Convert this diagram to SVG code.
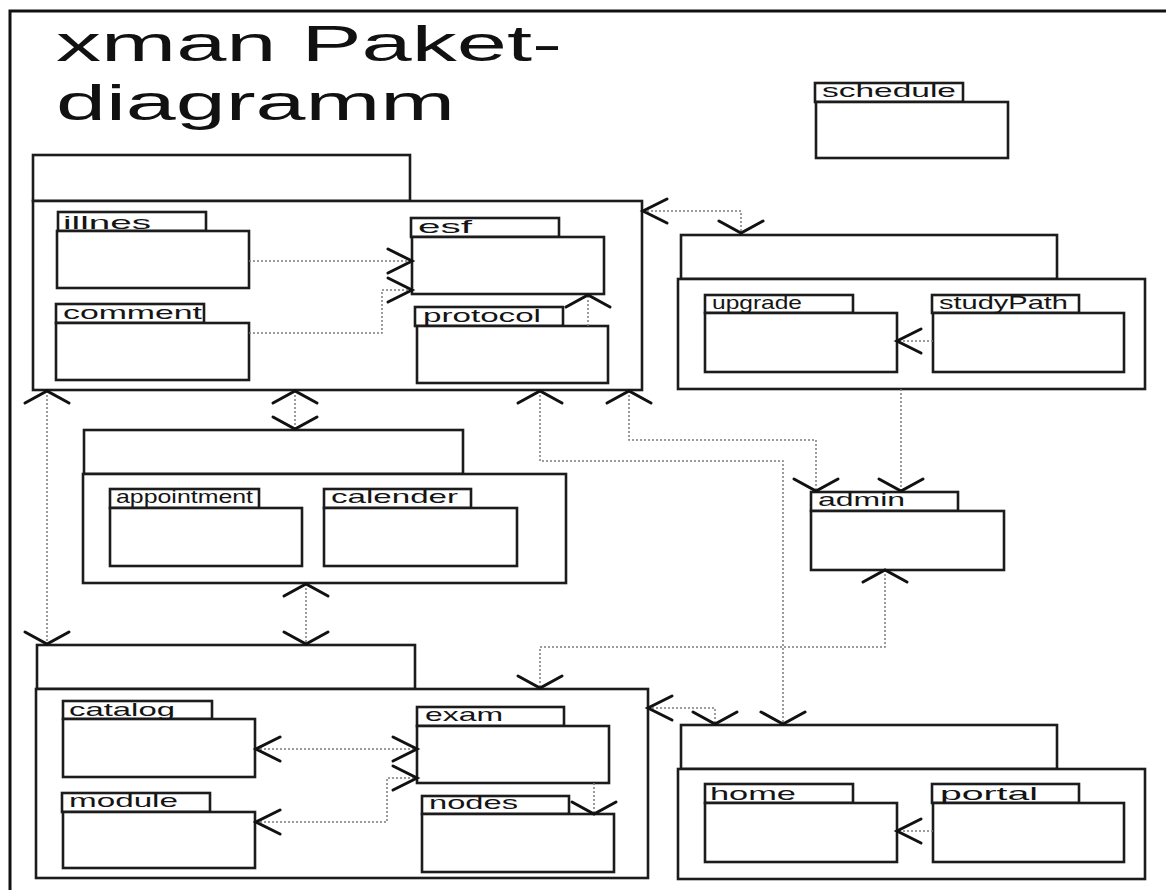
<svg xmlns="http://www.w3.org/2000/svg" width="1166" height="890" viewBox="0 0 1166 890">
<style>
.pk{fill:#fff;stroke:#1c1c1c;stroke-width:2.6}
.lbl{font-family:"Liberation Sans",Arial,sans-serif;font-size:19px;fill:#141414}
.title{font-family:"Liberation Sans",Arial,sans-serif;font-size:50px;fill:#111}
.cn{fill:none;stroke:#7c7c7c;stroke-width:1.5;stroke-dasharray:2 2}
.ahp{fill:none;stroke:#111;stroke-width:3;stroke-linecap:round;stroke-linejoin:miter}
</style>
<defs>
<marker id="ah" markerUnits="userSpaceOnUse" orient="auto-start-reverse" viewBox="-30 -30 60 60" markerWidth="60" markerHeight="60" refX="0" refY="0">
<path class="ahp" d="M-24,-12 L0,0 L-24,12"/>
</marker>
<marker id="av" markerUnits="userSpaceOnUse" orient="auto-start-reverse" viewBox="-30 -30 60 60" markerWidth="60" markerHeight="60" refX="0" refY="0">
<path class="ahp" d="M-12,-22 L0,0 L-12,22"/>
</marker>
</defs>
<rect x="0" y="0" width="1166" height="890" fill="#fff"/>
<path d="M10,892 V11 H1168" fill="none" stroke="#111" stroke-width="3"/>
<text class="title" x="56" y="61" textLength="506" lengthAdjust="spacingAndGlyphs">xman Paket-</text>
<text class="title" x="56" y="120" textLength="399" lengthAdjust="spacingAndGlyphs">diagramm</text>

<g id="schedule">
<rect class="pk" x="815" y="83" width="148" height="19"/>
<rect class="pk" x="816" y="102" width="192" height="56"/>
<text class="lbl" x="822" y="97" textLength="134" lengthAdjust="spacingAndGlyphs">schedule</text>
</g>

<g id="pkgA">
<rect class="pk" x="33" y="155" width="377" height="46"/>
<rect class="pk" x="33" y="201" width="609" height="189"/>
</g>
<g id="illnes">
<rect class="pk" x="58" y="212" width="148" height="19"/>
<rect class="pk" x="57" y="231" width="192" height="57"/>
<text class="lbl" x="63" y="229" font-size="22" textLength="88" lengthAdjust="spacingAndGlyphs">illnes</text>
</g>
<g id="comment">
<rect class="pk" x="56" y="304" width="148" height="19"/>
<rect class="pk" x="56" y="323" width="193" height="57"/>
<text class="lbl" x="63" y="319" font-size="20" textLength="139" lengthAdjust="spacingAndGlyphs">comment</text>
</g>
<g id="esf">
<rect class="pk" x="411" y="218" width="148" height="19"/>
<rect class="pk" x="412" y="237" width="192" height="57"/>
<text class="lbl" x="418" y="233" font-size="21" textLength="54" lengthAdjust="spacingAndGlyphs">esf</text>
</g>
<g id="protocol">
<rect class="pk" x="415" y="307" width="148" height="19"/>
<rect class="pk" x="417" y="326" width="191" height="57"/>
<text class="lbl" x="423" y="322" textLength="118" lengthAdjust="spacingAndGlyphs">protocol</text>
</g>

<g id="pkgB">
<rect class="pk" x="681" y="235" width="376" height="44"/>
<rect class="pk" x="678" y="279" width="467" height="110"/>
</g>
<g id="upgrade">
<rect class="pk" x="705" y="295" width="148" height="18"/>
<rect class="pk" x="705" y="313" width="192" height="59"/>
<text class="lbl" x="712" y="309" font-size="17" textLength="90" lengthAdjust="spacingAndGlyphs">upgrade</text>
</g>
<g id="studyPath">
<rect class="pk" x="932" y="295" width="147" height="18"/>
<rect class="pk" x="933" y="313" width="191" height="59"/>
<text class="lbl" x="939" y="309" font-size="17" textLength="129" lengthAdjust="spacingAndGlyphs">studyPath</text>
</g>

<g id="pkgE">
<rect class="pk" x="84" y="430" width="379" height="44"/>
<rect class="pk" x="83" y="474" width="483" height="109"/>
</g>
<g id="appointment">
<rect class="pk" x="110" y="489" width="149" height="19"/>
<rect class="pk" x="110" y="508" width="192" height="58"/>
<text class="lbl" x="116" y="503" font-size="17" textLength="137" lengthAdjust="spacingAndGlyphs">appointment</text>
</g>
<g id="calender">
<rect class="pk" x="324" y="489" width="147" height="19"/>
<rect class="pk" x="324" y="508" width="193" height="58"/>
<text class="lbl" x="331" y="503" font-size="18" textLength="127" lengthAdjust="spacingAndGlyphs">calender</text>
</g>

<g id="admin">
<rect class="pk" x="811" y="492" width="147" height="19"/>
<rect class="pk" x="811" y="511" width="193" height="59"/>
<text class="lbl" x="818" y="506" font-size="18" textLength="87" lengthAdjust="spacingAndGlyphs">admin</text>
</g>

<g id="pkgC">
<rect class="pk" x="37" y="645" width="378" height="44"/>
<rect class="pk" x="36" y="689" width="612" height="189"/>
</g>
<g id="catalog">
<rect class="pk" x="63" y="701" width="149" height="18"/>
<rect class="pk" x="63" y="719" width="192" height="58"/>
<text class="lbl" x="69" y="716" font-size="18" textLength="106" lengthAdjust="spacingAndGlyphs">catalog</text>
</g>
<g id="module">
<rect class="pk" x="62" y="793" width="148" height="19"/>
<rect class="pk" x="63" y="812" width="192" height="56"/>
<text class="lbl" x="69" y="807" font-size="18" textLength="109" lengthAdjust="spacingAndGlyphs">module</text>
</g>
<g id="exam">
<rect class="pk" x="417" y="707" width="147" height="19"/>
<rect class="pk" x="417" y="726" width="192" height="57"/>
<text class="lbl" x="425" y="721" font-size="18" textLength="78" lengthAdjust="spacingAndGlyphs">exam</text>
</g>
<g id="nodes">
<rect class="pk" x="422" y="796" width="147" height="18"/>
<rect class="pk" x="422" y="814" width="192" height="58"/>
<text class="lbl" x="429" y="809" font-size="18" textLength="89" lengthAdjust="spacingAndGlyphs">nodes</text>
</g>

<g id="pkgD">
<rect class="pk" x="681" y="725" width="376" height="44"/>
<rect class="pk" x="678" y="769" width="467" height="110"/>
</g>
<g id="home">
<rect class="pk" x="705" y="784" width="148" height="19"/>
<rect class="pk" x="705" y="803" width="192" height="59"/>
<text class="lbl" x="710" y="800" font-size="18" textLength="86" lengthAdjust="spacingAndGlyphs">home</text>
</g>
<g id="portal">
<rect class="pk" x="932" y="784" width="147" height="19"/>
<rect class="pk" x="933" y="803" width="191" height="59"/>
<text class="lbl" x="940" y="800" font-size="18" textLength="98" lengthAdjust="spacingAndGlyphs">portal</text>
</g>

<g id="connectors">
<path class="cn" d="M249,261 H412" marker-end="url(#ah)"/>
<path class="cn" d="M249,333 H382 V290 H412" marker-end="url(#ah)"/>
<path class="cn" d="M588,326 V295" marker-end="url(#av)"/>
<path class="cn" d="M643,211 H741 V233" marker-start="url(#ah)" marker-end="url(#av)"/>
<path class="cn" d="M933,341 H897" marker-end="url(#ah)"/>
<path class="cn" d="M901,389 V491" marker-end="url(#av)"/>
<path class="cn" d="M629,391 V440 H816 V491" marker-start="url(#av)" marker-end="url(#av)"/>
<path class="cn" d="M540,391 V461 H783 V724" marker-start="url(#av)" marker-end="url(#av)"/>
<path class="cn" d="M885,570 V647 H540 V688" marker-start="url(#av)" marker-end="url(#av)"/>
<path class="cn" d="M47,391 V644" marker-start="url(#av)" marker-end="url(#av)"/>
<path class="cn" d="M295,391 V429" marker-start="url(#av)" marker-end="url(#av)"/>
<path class="cn" d="M306,584 V644" marker-start="url(#av)" marker-end="url(#av)"/>
<path class="cn" d="M256,749 H417" marker-start="url(#ah)" marker-end="url(#ah)"/>
<path class="cn" d="M256,822 H387 V778 H417" marker-start="url(#ah)" marker-end="url(#ah)"/>
<path class="cn" d="M594,783 V814" marker-end="url(#av)"/>
<path class="cn" d="M648,708 H715 V724" marker-start="url(#ah)" marker-end="url(#av)"/>
<path class="cn" d="M933,831 H897" marker-end="url(#ah)"/>
</g>
</svg>
